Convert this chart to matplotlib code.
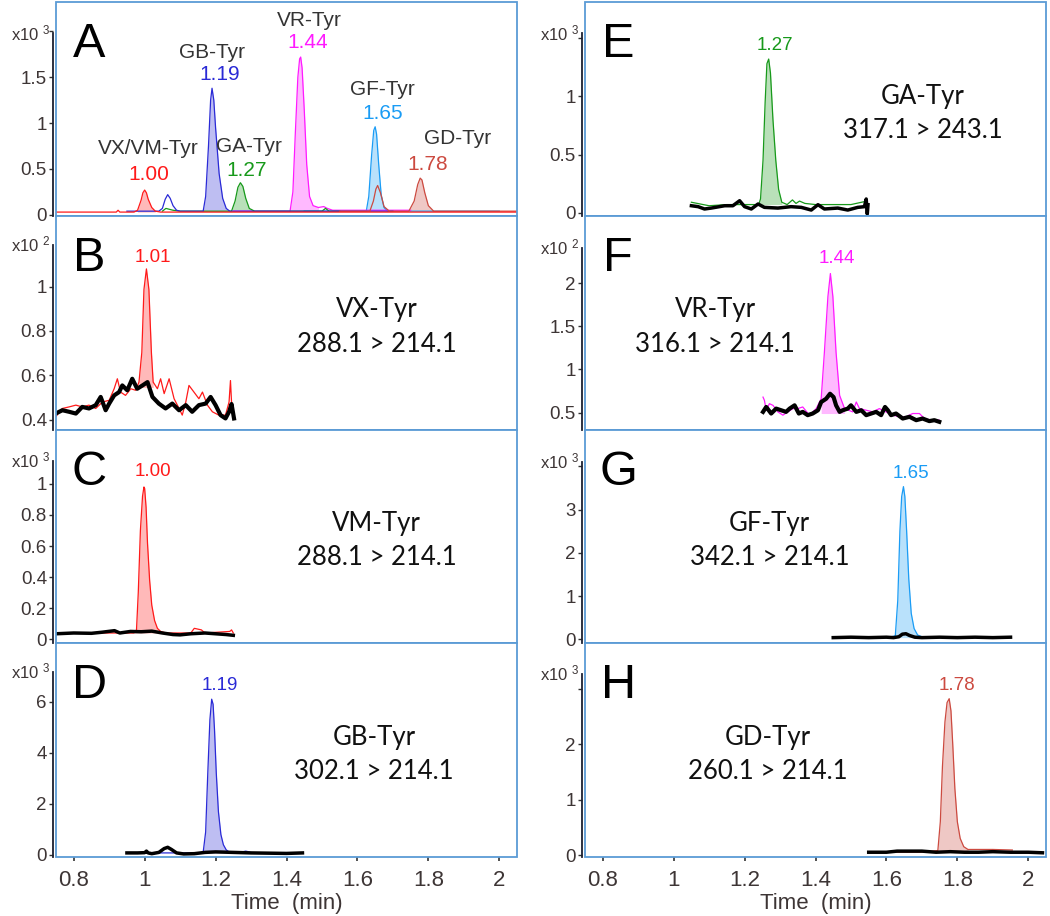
import matplotlib
matplotlib.use("Agg")
import matplotlib.pyplot as plt
from matplotlib.patches import Rectangle
import matplotlib.transforms as mtransforms

plt.rcParams.update({
    "font.family": ["Liberation Sans", "DejaVu Sans"],
    "mathtext.default": "regular",
})

# colours of the compounds
C_VX = "#ff1a1a"
C_GB = "#2a2ad6"
C_GA = "#17991a"
C_VR = "#ff1aff"
C_GF = "#1a9cf5"
C_GD = "#cc4a40"
BOX = "#5b9bd5"
TICKC = "#3d3535"

X_TICKS = [0.8, 1.0, 1.2, 1.4, 1.6, 1.8, 2.0]
X_TICKLABELS = ["0.8", "1", "1.2", "1.4", "1.6", "1.8", "2"]

# ---------------- Panel A (x10^3) ----------------
a_red_t = [0.75, 0.92, 0.925, 0.93, 0.97, 0.98, 0.99, 0.995, 1.00, 1.005, 1.01, 1.02, 1.03, 1.045, 2.05]
a_red_y = [0.03, 0.03, 0.05, 0.03, 0.03, 0.05, 0.16, 0.24, 0.27, 0.24, 0.17, 0.08, 0.04, 0.03, 0.03]
a_blue_t = [0.95, 1.04, 1.05, 1.058, 1.065, 1.072, 1.08, 1.09, 1.10, 1.165, 1.172, 1.18, 1.186, 1.19,
            1.195, 1.20, 1.21, 1.22, 1.23, 1.24, 1.70]
a_blue_y = [0.04, 0.04, 0.07, 0.17, 0.22, 0.18, 0.10, 0.05, 0.04, 0.04, 0.20, 0.75, 1.25, 1.38,
            1.25, 0.95, 0.45, 0.18, 0.07, 0.04, 0.04]
a_green_t = [1.05, 1.06, 1.08, 1.10, 1.245, 1.255, 1.263, 1.27, 1.277, 1.285, 1.295, 1.31,
             1.50, 1.51, 1.52, 1.55]
a_green_y = [0.04, 0.07, 0.05, 0.04, 0.04, 0.15, 0.30, 0.35, 0.31, 0.18, 0.07, 0.04,
             0.04, 0.07, 0.04, 0.04]
a_mag_t = [1.25, 1.41, 1.418, 1.425, 1.432, 1.437, 1.44, 1.444, 1.45, 1.457, 1.465, 1.475,
           1.49, 1.505, 1.515, 1.53, 1.75]
a_mag_y = [0.04, 0.04, 0.25, 0.90, 1.50, 1.70, 1.72, 1.60, 1.15, 0.55, 0.20, 0.10,
           0.08, 0.09, 0.07, 0.05, 0.05]
a_cyan_t = [1.45, 1.625, 1.632, 1.64, 1.646, 1.65, 1.654, 1.66, 1.667, 1.675, 1.685, 2.0]
a_cyan_y = [0.04, 0.04, 0.20, 0.65, 0.92, 0.96, 0.88, 0.55, 0.22, 0.08, 0.04, 0.04]
a_brown_t = [1.55, 1.635, 1.645, 1.652, 1.657, 1.665, 1.675, 1.69, 1.745, 1.76, 1.77, 1.777,
             1.782, 1.79, 1.80, 1.815, 2.05]
a_brown_y = [0.04, 0.04, 0.15, 0.28, 0.32, 0.24, 0.09, 0.04, 0.04, 0.15, 0.33, 0.40,
             0.38, 0.24, 0.10, 0.04, 0.04]

# ---------------- Panel B (x10^2) ----------------
b_red_t = [0.749, 0.768, 0.787, 0.806, 0.824, 0.843, 0.862, 0.881, 0.900, 0.914, 0.923, 0.932,
           0.946, 0.961, 0.975, 0.984, 0.992, 0.998, 1.005, 1.012, 1.019, 1.024, 1.036, 1.045,
           1.055, 1.069, 1.083, 1.097, 1.106, 1.116, 1.125, 1.139, 1.153, 1.163, 1.177, 1.191,
           1.209, 1.228, 1.238, 1.242, 1.245, 1.252]
b_red_y = [0.412, 0.450, 0.457, 0.465, 0.457, 0.465, 0.450, 0.479, 0.487, 0.539, 0.584, 0.524,
           0.509, 0.539, 0.532, 0.569, 0.703, 0.987, 1.080, 0.987, 0.703, 0.569, 0.539, 0.584,
           0.517, 0.584, 0.494, 0.450, 0.420, 0.479, 0.554, 0.524, 0.494, 0.524, 0.465, 0.435,
           0.420, 0.420, 0.479, 0.576, 0.479, 0.420]
b_black_t = [0.749, 0.768, 0.787, 0.806, 0.824, 0.843, 0.862, 0.876, 0.890, 0.900, 0.914, 0.928,
             0.937, 0.951, 0.965, 0.979, 0.994, 1.008, 1.022, 1.040, 1.059, 1.078, 1.097, 1.116,
             1.134, 1.153, 1.172, 1.186, 1.200, 1.214, 1.228, 1.238, 1.245, 1.252]
b_black_y = [0.427, 0.442, 0.435, 0.427, 0.457, 0.450, 0.465, 0.502, 0.442, 0.472, 0.509, 0.524,
             0.554, 0.532, 0.584, 0.539, 0.554, 0.569, 0.502, 0.472, 0.450, 0.472, 0.442, 0.465,
             0.435, 0.465, 0.472, 0.502, 0.465, 0.420, 0.405, 0.435, 0.470, 0.405]

# ---------------- Panel C (x10^3) ----------------
c_red_t = [0.75, 0.97, 0.977, 0.982, 0.988, 0.994, 0.998, 1.000, 1.004, 1.008, 1.014, 1.020,
           1.028, 1.036, 1.045, 1.06, 1.13, 1.14, 1.16, 1.17, 1.24, 1.245, 1.25]
c_red_y = [0.04, 0.04, 0.06, 0.30, 0.70, 0.92, 0.98, 0.97, 0.85, 0.62, 0.38, 0.22,
           0.12, 0.07, 0.05, 0.04, 0.04, 0.07, 0.06, 0.04, 0.05, 0.06, 0.04]
c_black_t = [0.75, 0.80, 0.85, 0.88, 0.915, 0.93, 0.96, 0.99, 1.02, 1.05, 1.08, 1.10, 1.13,
             1.17, 1.20, 1.23, 1.25]
c_black_y = [0.035, 0.04, 0.038, 0.045, 0.055, 0.04, 0.05, 0.048, 0.052, 0.04, 0.03, 0.028,
             0.035, 0.04, 0.035, 0.03, 0.025]

# ---------------- Panel D (x10^3) ----------------
d_blue_t = [0.95, 1.15, 1.165, 1.172, 1.178, 1.184, 1.189, 1.193, 1.197, 1.202, 1.208, 1.215,
            1.222, 1.23, 1.24, 1.26, 1.275, 1.285, 1.295, 1.30, 1.445]
d_blue_y = [0.08, 0.08, 0.10, 0.9, 3.2, 5.3, 6.1, 5.9, 4.9, 3.2, 1.7, 0.8,
            0.4, 0.2, 0.1, 0.08, 0.12, 0.15, 0.12, 0.08, 0.08]
d_black_t = [0.95, 0.98, 1.0, 1.005, 1.01, 1.02, 1.04, 1.055, 1.065, 1.075, 1.09, 1.11, 1.14,
             1.17, 1.20, 1.25, 1.30, 1.35, 1.40, 1.445]
d_black_y = [0.08, 0.08, 0.09, 0.15, 0.08, 0.05, 0.10, 0.25, 0.30, 0.22, 0.08, 0.04, 0.05,
             0.10, 0.12, 0.10, 0.08, 0.07, 0.06, 0.08]

# ---------------- Panel E (x10^3) ----------------
e_green_t = [1.05, 1.10, 1.15, 1.20, 1.24, 1.245, 1.252, 1.258, 1.263, 1.268, 1.273, 1.28,
             1.288, 1.296, 1.305, 1.32, 1.335, 1.345, 1.355, 1.37, 1.40, 1.45, 1.50, 1.545]
e_green_y = [0.09, 0.06, 0.07, 0.07, 0.07, 0.12, 0.45, 0.95, 1.28, 1.32, 1.20, 0.80,
             0.45, 0.20, 0.09, 0.07, 0.11, 0.08, 0.10, 0.08, 0.07, 0.07, 0.07, 0.10]
e_black_t = [1.050, 1.069, 1.087, 1.106, 1.144, 1.167, 1.186, 1.200, 1.219, 1.238, 1.256, 1.294,
             1.331, 1.360, 1.388, 1.407, 1.425, 1.463, 1.491, 1.519, 1.538, 1.543, 1.546, 1.548]
e_black_y = [0.060, 0.052, 0.032, 0.040, 0.060, 0.060, 0.103, 0.052, 0.032, 0.075, 0.046, 0.040,
             0.052, 0.046, 0.023, 0.069, 0.032, 0.040, 0.023, 0.046, 0.052, 0.118, -0.011, 0.069]

# ---------------- Panel F (x10^2) ----------------
f_mag_t = [1.252, 1.256, 1.261, 1.270, 1.280, 1.294, 1.308, 1.322, 1.336, 1.350, 1.364, 1.383,
           1.402, 1.416, 1.425, 1.435, 1.442, 1.449, 1.458, 1.468, 1.482, 1.505, 1.515, 1.524,
           1.543, 1.562, 1.580, 1.599, 1.618, 1.637, 1.655, 1.674, 1.693, 1.707, 1.726, 1.749]
f_mag_y = [0.680, 0.642, 0.528, 0.604, 0.585, 0.509, 0.471, 0.509, 0.547, 0.547, 0.566, 0.471,
           0.547, 0.661, 1.195, 1.844, 2.111, 1.844, 1.195, 0.700, 0.547, 0.509, 0.623, 0.547,
           0.528, 0.509, 0.547, 0.509, 0.471, 0.452, 0.452, 0.490, 0.490, 0.433, 0.413, 0.413]
f_black_t = [1.252, 1.261, 1.275, 1.289, 1.303, 1.317, 1.327, 1.341, 1.353, 1.364, 1.378, 1.392,
             1.407, 1.416, 1.430, 1.441, 1.451, 1.458, 1.468, 1.477, 1.491, 1.500, 1.515, 1.529,
             1.543, 1.557, 1.571, 1.585, 1.596, 1.604, 1.613, 1.627, 1.646, 1.665, 1.684, 1.702,
             1.721, 1.735, 1.749]
f_black_y = [0.509, 0.566, 0.490, 0.547, 0.528, 0.509, 0.547, 0.585, 0.490, 0.509, 0.471, 0.490,
             0.528, 0.623, 0.661, 0.719, 0.680, 0.585, 0.509, 0.528, 0.547, 0.585, 0.509, 0.528,
             0.471, 0.490, 0.509, 0.471, 0.566, 0.528, 0.471, 0.490, 0.432, 0.452, 0.413, 0.432,
             0.402, 0.413, 0.394]

# ---------------- Panel G (x10^3) ----------------
g_cyan_t = [1.45, 1.60, 1.625, 1.632, 1.638, 1.643, 1.648, 1.652, 1.657, 1.663, 1.67, 1.678,
            1.688, 1.70, 1.72, 1.75, 1.76, 1.95]
g_cyan_y = [0.04, 0.04, 0.08, 0.9, 2.5, 3.3, 3.53, 3.3, 2.5, 1.4, 0.6, 0.25,
            0.1, 0.06, 0.05, 0.05, 0.06, 0.04]
g_black_t = [1.45, 1.50, 1.55, 1.60, 1.62, 1.635, 1.645, 1.655, 1.665, 1.68, 1.70, 1.75, 1.80,
             1.85, 1.90, 1.95]
g_black_y = [0.04, 0.05, 0.04, 0.05, 0.04, 0.06, 0.12, 0.13, 0.09, 0.05, 0.04, 0.05, 0.04,
             0.05, 0.04, 0.05]

# ---------------- Panel H (x10^3) ----------------
h_red_t = [1.55, 1.70, 1.745, 1.752, 1.758, 1.765, 1.771, 1.777, 1.782, 1.787, 1.793, 1.80,
           1.808, 1.818, 1.83, 1.85, 1.90, 1.955]
h_red_y = [0.05, 0.05, 0.08, 0.6, 1.6, 2.4, 2.75, 2.82, 2.6, 2.0, 1.2, 0.6,
           0.3, 0.15, 0.1, 0.1, 0.1, 0.09]
h_black_t = [1.55, 1.60, 1.63, 1.66, 1.70, 1.74, 1.78, 1.82, 1.86, 1.90, 1.95, 2.0, 2.04]
h_black_y = [0.05, 0.05, 0.07, 0.07, 0.07, 0.05, 0.06, 0.05, 0.05, 0.06, 0.05, 0.05, 0.04]


def trace(ax, t, y, color, lw=0.9, fill=None, base=None, z=3):
    ax.plot(t, y, color=color, lw=lw, zorder=z)
    if fill is not None:
        lo, hi = fill
        pts = [(a, b) for a, b in zip(t, y) if lo <= a <= hi]
        ft = [p[0] for p in pts]
        fy = [p[1] for p in pts]
        ax.fill_between(ft, base, fy, color=color, alpha=0.3, lw=0, zorder=z - 1)


def frame(ax, ylim, yticks, ylabels, top, exp, letter, bottom_row):
    ax.set_xlim(0.75, 2.05)
    ax.set_ylim(*ylim)
    for s in ["top", "right", "bottom"]:
        ax.spines[s].set_visible(False)
    ax.spines["left"].set_position(("outward", 2))
    ax.spines["left"].set_bounds(ylim[0], top)
    ax.spines["left"].set_color("#1c2030")
    ax.spines["left"].set_linewidth(1.3)
    ax.add_patch(Rectangle((0, 0), 1, 1, transform=ax.transAxes, fill=False,
                           edgecolor=BOX, lw=1.3, clip_on=False, zorder=10))
    ax.set_yticks(yticks)
    ax.set_yticklabels(ylabels)
    ax.tick_params(axis="y", direction="out", length=3, width=1, color="#333333",
                   labelsize=13.5, labelcolor=TICKC, pad=1.5)
    if bottom_row:
        ax.set_xticks(X_TICKS)
        ax.set_xticklabels(X_TICKLABELS)
        ax.tick_params(axis="x", direction="out", length=3, width=1.2, color="#333333",
                       labelsize=16, labelcolor=TICKC, pad=6)
        ax.set_xlabel("Time  (min)", fontsize=16, color=TICKC, labelpad=2)
    else:
        ax.tick_params(axis="x", bottom=False, labelbottom=False)
    trans = mtransforms.blended_transform_factory(ax.transAxes, ax.transData)
    ax.text(-0.011, top, "x10 $^{%d}$" % exp, transform=trans, ha="right", va="center",
            fontsize=12, color=TICKC)
    ax.text(0.072, 0.80, letter, transform=ax.transAxes, ha="center", va="center",
            fontsize=35, color="black")


def compound(ax, x, name, mrm):
    kw = dict(transform=ax.transAxes, ha="center", va="center", fontsize=18.5,
              family=["Lato", "DejaVu Sans"], color="#111111")
    ax.text(x, 0.56, name, **kw)
    ax.text(x, 0.40, mrm, **kw)


fig = plt.figure(figsize=(10.5, 9.16), dpi=100)
W, H = 1050.0, 916.0
row_h = 213.75
axes = {}
for col, x0 in enumerate([56, 585]):
    for row in range(4):
        top_px = 2 + row_h * row
        ax = fig.add_axes([x0 / W, 1 - (top_px + row_h) / H, 461 / W, row_h / H])
        axes[(col, row)] = ax

# A
ax = axes[(0, 0)]
trace(ax, a_cyan_t, a_cyan_y, C_GF, fill=(1.62, 1.69), base=0.04)
trace(ax, a_mag_t, a_mag_y, C_VR, fill=(1.41, 1.49), base=0.04)
trace(ax, a_green_t, a_green_y, C_GA, fill=(1.245, 1.31), base=0.04)
trace(ax, a_blue_t, a_blue_y, C_GB, fill=(1.165, 1.24), base=0.04)
trace(ax, a_brown_t, a_brown_y, C_GD, fill=(1.74, 1.815), base=0.04)
trace(ax, a_red_t, a_red_y, C_VX, fill=(0.975, 1.03), base=0.03)
frame(ax, (-0.01, 2.32), [0, 0.5, 1, 1.5, 2], ["0", "0.5", "1", "1.5", ""], 1.98, 3, "A", False)
lab = dict(ha="center", va="center", fontsize=15)
ax.text(1.011, 0.72, "VX/VM-Tyr", color="#333333", **lab)
ax.text(1.013, 0.44, "1.00", color=C_VX, **lab)
ax.text(1.189, 1.77, "GB-Tyr", color="#333333", **lab)
ax.text(1.211, 1.53, "1.19", color=C_GB, **lab)
ax.text(1.293, 0.74, "GA-Tyr", color="#333333", **lab)
ax.text(1.287, 0.48, "1.27", color=C_GA, **lab)
ax.text(1.465, 2.12, "VR-Tyr", color="#333333", **lab)
ax.text(1.459, 1.88, "1.44", color=C_VR, **lab)
ax.text(1.670, 1.37, "GF-Tyr", color="#333333", **lab)
ax.text(1.670, 1.10, "1.65", color=C_GF, **lab)
ax.text(1.881, 0.83, "GD-Tyr", color="#333333", **lab)
ax.text(1.797, 0.55, "1.78", color=C_GD, **lab)

rt = dict(ha="center", va="center", fontsize=13.5)

# B
ax = axes[(0, 1)]
trace(ax, b_red_t, b_red_y, C_VX, fill=(0.984, 1.024), base=0.545)
ax.plot(b_black_t, b_black_y, color="black", lw=3.0, zorder=5)
frame(ax, (0.355, 1.32), [0.4, 0.6, 0.8, 1.0], ["0.4", "0.6", "0.8", "1"], 1.19, 2, "B", False)
ax.text(1.024, 1.13, "1.01", color=C_VX, **rt)
compound(ax, 0.696, "VX-Tyr", "288.1 > 214.1")

# C
ax = axes[(0, 2)]
trace(ax, c_red_t, c_red_y, C_VX, fill=(0.97, 1.06), base=0.04)
ax.plot(c_black_t, c_black_y, color="black", lw=2.5, zorder=5)
frame(ax, (-0.026, 1.35), [0, 0.2, 0.4, 0.6, 0.8, 1.0],
      ["0", "0.2", "0.4", "0.6", "0.8", "1"], 1.15, 3, "C", False)
ax.text(1.023, 1.077, "1.00", color=C_VX, **rt)
compound(ax, 0.696, "VM-Tyr", "288.1 > 214.1")

# D
ax = axes[(0, 3)]
trace(ax, d_blue_t, d_blue_y, C_GB, fill=(1.165, 1.24), base=0.08)
ax.plot(d_black_t, d_black_y, color="black", lw=2.5, zorder=5)
frame(ax, (-0.08, 8.29), [0, 2, 4, 6], ["0", "2", "4", "6"], 7.18, 3, "D", True)
ax.text(1.211, 6.63, "1.19", color=C_GB, **rt)
compound(ax, 0.69, "GB-Tyr", "302.1 > 214.1")

# E
ax = axes[(1, 0)]
trace(ax, e_green_t, e_green_y, C_GA, fill=(1.24, 1.305), base=0.07)
ax.plot(e_black_t, e_black_y, color="black", lw=2.5, zorder=5)
frame(ax, (-0.026, 1.81), [0, 0.5, 1, 1.5], ["0", "0.5", "1", ""], 1.54, 3, "E", False)
ax.text(1.285, 1.44, "1.27", color=C_GA, **rt)
compound(ax, 0.733, "GA-Tyr", "317.1 > 243.1")

# F
ax = axes[(1, 1)]
trace(ax, f_mag_t, f_mag_y, C_VR, fill=(1.416, 1.482), base=0.49)
ax.plot(f_black_t, f_black_y, color="black", lw=3.0, zorder=5)
frame(ax, (0.305, 2.78), [0.5, 1, 1.5, 2], ["0.5", "1", "1.5", "2"], 2.41, 2, "F", False)
ax.text(1.459, 2.29, "1.44", color=C_VR, **rt)
compound(ax, 0.282, "VR-Tyr", "316.1 > 214.1")

# G
ax = axes[(1, 2)]
trace(ax, g_cyan_t, g_cyan_y, C_GF, fill=(1.625, 1.70), base=0.04)
ax.plot(g_black_t, g_black_y, color="black", lw=2.5, zorder=5)
frame(ax, (-0.09, 4.85), [0, 1, 2, 3, 4], ["0", "1", "2", "3", ""], 4.11, 3, "G", False)
ax.text(1.670, 3.83, "1.65", color=C_GF, **rt)
compound(ax, 0.40, "GF-Tyr", "342.1 > 214.1")

# H
ax = axes[(1, 3)]
trace(ax, h_red_t, h_red_y, C_GD, fill=(1.745, 1.83), base=0.05)
ax.plot(h_black_t, h_black_y, color="black", lw=2.5, zorder=5)
frame(ax, (-0.036, 3.82), [0, 1, 2, 3], ["0", "1", "2", ""], 3.27, 3, "H", True)
ax.text(1.800, 3.05, "1.78", color=C_GD, **rt)
compound(ax, 0.397, "GD-Tyr", "260.1 > 214.1")

fig.savefig("out.png", dpi=100)
